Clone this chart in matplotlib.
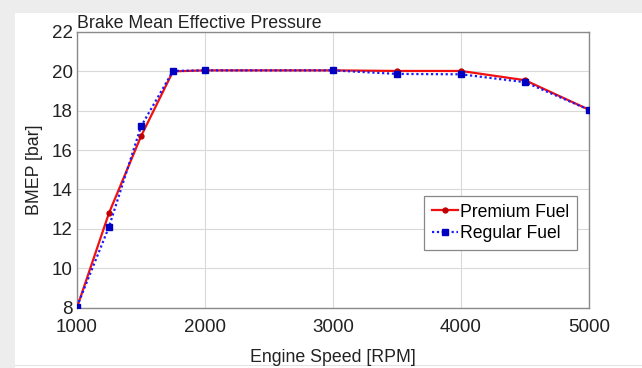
import matplotlib.pyplot as plt
from matplotlib.patches import Rectangle

plt.rcParams['font.family'] = ['Liberation Sans', 'DejaVu Sans']

speed = [1000, 1250, 1500, 1750, 2000, 3000, 3500, 4000, 4500, 5000]
premium = [8.0, 12.8, 16.7, 20.0, 20.05, 20.05, 20.02, 20.02, 19.55, 18.05]
regular = [8.05, 12.1, 17.2, 20.02, 20.05, 20.05, 19.87, 19.85, 19.45, 18.05]

xticks = [1000, 2000, 3000, 4000, 5000]
yticks = [8, 10, 12, 14, 16, 18, 20, 22]

W, H = 642, 368
fig = plt.figure(figsize=(W / 100, H / 100), dpi=100, facecolor='white')

# screenshot frame (gray band on top/left, thin line at bottom)
fig.patches.append(Rectangle((0, 1 - 13 / H), 1, 13 / H, transform=fig.transFigure,
                             facecolor='#ededed', edgecolor='none', zorder=-5))
fig.patches.append(Rectangle((0, 0), 15 / W, 1, transform=fig.transFigure,
                             facecolor='#ededed', edgecolor='none', zorder=-5))
fig.patches.append(Rectangle((15 / W, 2 / H), 1, 1.5 / H, transform=fig.transFigure,
                             facecolor='#e3e3e3', edgecolor='none', zorder=-5))

ax = fig.add_axes([77 / W, 1 - 307.5 / H, 512 / W, 275.5 / H])

ax.plot(speed, premium, color='#f01010', linewidth=1.6, marker='o', markersize=3.5,
        markerfacecolor='#c00000', markeredgecolor='#c00000', label='Premium Fuel', zorder=3)
ax.plot(speed, regular, color='#1a1aff', linewidth=1.6, linestyle=(0, (1, 1.2)), marker='s',
        markersize=4, markerfacecolor='#0000c0', markeredgecolor='#0000c0',
        label='Regular Fuel', zorder=4)

ax.set_xlim(1000, 5000)
ax.set_ylim(8, 22)
ax.set_xticks(xticks)
ax.set_yticks(yticks)
ax.grid(True, color='#d9d9d9', linewidth=0.8)
ax.set_axisbelow(True)
for s in ax.spines.values():
    s.set_color('#8a8a8a')
    s.set_linewidth(1.0)
ax.tick_params(length=0, labelsize=13.5, colors='#222222')
ax.tick_params(axis='x', pad=8)
ax.tick_params(axis='y', pad=3)

ax.set_xlabel('Engine Speed [RPM]', fontsize=12.8, color='#222222', labelpad=10)
ax.set_ylabel('BMEP [bar]', fontsize=12.8, color='#222222', labelpad=6)
ax.set_title('Brake Mean Effective Pressure', fontsize=12.8, loc='left', pad=0,
             color='#222222')

leg = ax.legend(loc='lower right', bbox_to_anchor=(0.977, 0.209), fontsize=12.7,
                handlelength=1.45, handletextpad=0.15, borderpad=0.45, labelspacing=0.25,
                borderaxespad=0, fancybox=False, framealpha=1, edgecolor='#888888')
leg.get_frame().set_linewidth(0.9)

fig.savefig('out.png', dpi=100)
